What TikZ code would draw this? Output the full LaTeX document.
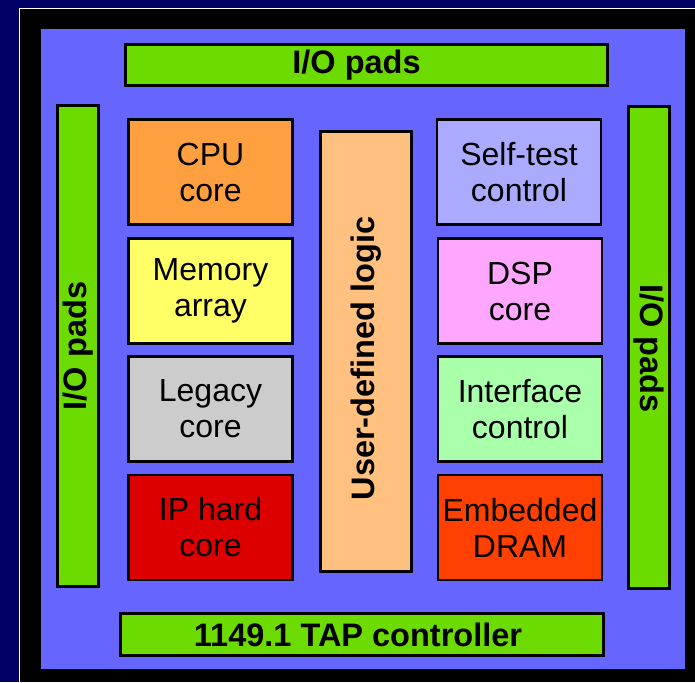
\documentclass[tikz,border=0pt]{standalone}
\usepackage{fontspec}
\setmainfont{Liberation Sans}
\definecolor{navy}{RGB}{0,0,102}
\definecolor{chipblue}{RGB}{102,102,255}
\definecolor{padgreen}{RGB}{108,220,0}
\definecolor{cpuorange}{RGB}{255,160,64}
\definecolor{memyellow}{RGB}{255,255,102}
\definecolor{leggray}{RGB}{204,204,204}
\definecolor{ipred}{RGB}{221,0,0}
\definecolor{udlpeach}{RGB}{255,192,128}
\definecolor{stlav}{RGB}{170,170,255}
\definecolor{dsppink}{RGB}{255,166,255}
\definecolor{ifgreen}{RGB}{170,255,170}
\definecolor{dramorange}{RGB}{255,64,0}
\tikzset{
  blk/.style={draw=black, line width=2.6pt, inner sep=0pt, align=center,
    font=\fontsize{32}{36}\selectfont},
  core/.style={blk, minimum width=164pt, minimum height=105pt},
  pad/.style={blk, fill=padgreen},
  boldtxt/.style={font=\fontsize{32.5}{36}\selectfont\bfseries, inner sep=0pt},
}
\begin{document}
\begin{tikzpicture}[x=1pt,y=-1pt]
\useasboundingbox (0,0) rectangle (695,682);
\fill[navy] (0,0) rectangle (695,682);
\fill[black] (19,8) rectangle (695,682);
\draw[white, line width=1pt] (19.5,682) -- (19.5,8.5) -- (695,8.5);
\fill[chipblue] (41,29) rectangle (685,669);
% I/O pads and TAP
\node[pad, minimum width=482pt, minimum height=41pt] (iotop) at (366.5,65) {};
\node[boldtxt] (iotoptxt) at ([xshift=-10pt]iotop.center) {I/O pads};
\node[pad, minimum width=41pt, minimum height=481pt] (ioleft) at (78,346) {};
\node[boldtxt, rotate=90] (iolefttxt) at (ioleft.center) {I/O pads};
\node[pad, minimum width=41pt, minimum height=482pt] (ioright) at (649,347.5) {};
\node[boldtxt, rotate=-90] (iorighttxt) at ([yshift=-1pt]ioright.center) {I/O pads};
\node[pad, minimum width=483pt, minimum height=42pt] (tap) at (362,634.5) {};
\node[boldtxt] (taptxt) at ([xshift=-4pt]tap.center) {1149.1 TAP controller};
% left column
\node[core, fill=cpuorange] (cpu) at (210.5,172) {CPU\\core};
\node[core, fill=memyellow] (mem) at (210.5,291) {Memory\\array};
\node[core, fill=leggray] (leg) at (210.5,409) {Legacy\\core};
\node[core, fill=ipred] (ip) at (210.5,527.5) {IP hard\\core};
% user-defined logic
\node[blk, fill=udlpeach, minimum width=91pt, minimum height=440pt] (udl) at (366,351.5) {};
\node[boldtxt, rotate=90] (udltxt) at ([yshift=-7pt]udl.center) {User-defined logic};
% right column
\node[core, fill=stlav] (st) at (519,172) {Self-test\\control};
\node[core, fill=dsppink] (dsp) at (520,291) {DSP\\core};
\node[core, fill=ifgreen] (ifc) at (520,409) {Interface\\control};
\node[core, fill=dramorange] (dram) at (520,527.5) {Embedded\\DRAM};
\end{tikzpicture}
\end{document}
